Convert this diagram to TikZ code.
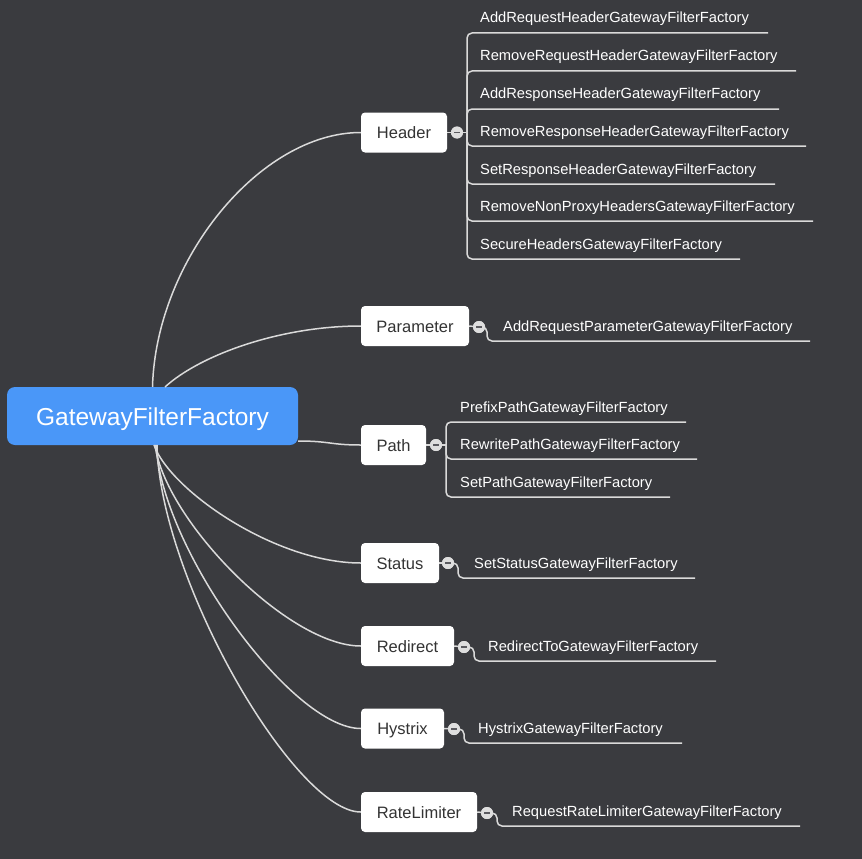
\documentclass[tikz,border=0pt]{standalone}
\usepackage{fontspec}
\setmainfont{Liberation Sans}
\definecolor{bg}{RGB}{58,59,63}
\definecolor{rootblue}{RGB}{74,151,248}
\definecolor{linec}{RGB}{218,218,218}
\definecolor{darktext}{RGB}{51,51,51}
\definecolor{togc}{RGB}{222,222,222}
\definecolor{minusc}{RGB}{90,90,95}
\begin{document}
\begin{tikzpicture}[x=1pt,y=-1pt,
  conn/.style={draw=linec,line width=1.5pt},
  elbow/.style={draw=linec,line width=1.5pt,rounded corners=5pt},
  rootbox/.style={fill=rootblue,rounded corners=8pt,text=white,font=\fontsize{24.5}{28}\selectfont,inner sep=0pt,minimum width=291pt,minimum height=58pt},
  branch/.style={fill=white,rounded corners=4pt,text=darktext,font=\fontsize{16.5}{19}\selectfont,inner sep=0pt,minimum height=40pt,text height=12pt,text depth=0pt},
  leaf/.style={text=white,font=\fontsize{14.7}{17}\selectfont,inner sep=0pt,anchor=base west},
  tog/.style={circle,fill=togc,minimum size=12pt,inner sep=0pt}
]
\useasboundingbox (0,0) rectangle (862,859);
\fill[bg] (0,0) rectangle (862,859);

% root
\node[rootbox,text height=18pt,text depth=0pt] (root) at (152.5,416) {GatewayFilterFactory};

% branch nodes
\node[branch,minimum width=86pt]  (hdr) at (404,132.5) {Header};
\node[branch,minimum width=108pt] (par) at (415,326) {Parameter};
\node[branch,minimum width=65pt]  (pth) at (393.5,445) {Path};
\node[branch,minimum width=78pt]  (sts) at (400,563) {Status};
\node[branch,minimum width=93pt]  (red) at (407.5,646) {Redirect};
\node[branch,minimum width=83pt]  (hys) at (402.5,728.5) {Hystrix};
\node[branch,minimum width=116pt] (rtl) at (419,812) {RateLimiter};

% root connectors
\coordinate (rP) at (165,387);
\coordinate (rPa) at (298,441);
\coordinate (rS) at (154,445);
\coordinate (rR) at (155,445);
\coordinate (rH) at (156,445);
\coordinate (rL) at (157,445);
\draw[conn] (root.north) .. controls (156,260) and (260,132.5) .. (hdr.west);
\draw[conn] (rP) .. controls (200,355) and (280,326) .. (par.west);
\draw[conn] (rPa) .. controls (330,441) and (330,445) .. (pth.west);
\draw[conn] (rS) .. controls (170,490) and (275,563) .. (sts.west);
\draw[conn] (rR) .. controls (165,520) and (288,646) .. (red.west);
\draw[conn] (rH) .. controls (162,550) and (292,728.5) .. (hys.west);
\draw[conn] (rL) .. controls (160,580) and (295,812) .. (rtl.west);

% toggles
\node[tog] (hc)  at (457,132.5) {};
\node[tog] (pc)  at (479,327) {};
\node[tog] (pac) at (436,445) {};
\node[tog] (sc)  at (448,563) {};
\node[tog] (rc)  at (464,647) {};
\node[tog] (hyc) at (454,729) {};
\node[tog] (rlc) at (487,813) {};
\draw[conn] (hdr.east) -- (hc);
\draw[conn] (par.east) -- (pc);
\draw[conn] (pth.east) -- (pac);
\draw[conn] (sts.east) -- (sc);
\draw[conn] (red.east) -- (rc);
\draw[conn] (hys.east) -- (hyc);
\draw[conn] (rtl.east) -- (rlc);

% Header leaves
\coordinate (hj) at (467,132.5);
\draw[conn] (hc) -- (hj);
\foreach \ly/\ex/\nm/\txt in {
  33/768/h1/AddRequestHeaderGatewayFilterFactory,
  71/796/h2/RemoveRequestHeaderGatewayFilterFactory,
  109/779/h3/AddResponseHeaderGatewayFilterFactory,
  146/806/h4/RemoveResponseHeaderGatewayFilterFactory,
  184/775/h5/SetResponseHeaderGatewayFilterFactory,
  221/813/h6/RemoveNonProxyHeadersGatewayFilterFactory,
  259/740/h7/SecureHeadersGatewayFilterFactory}{
  \coordinate (\nm e) at (\ex,\ly);
  \draw[elbow] (hj) |- (\nm e);
  \node[leaf] (\nm) at (480,\ly-10) {\txt};
}

% Parameter leaf
\coordinate (pj) at (487,327);
\coordinate (p1e) at (810,341);
\draw[elbow] (pc) -- (pj) |- (p1e);
\node[leaf] (p1) at (503,331) {AddRequestParameterGatewayFilterFactory};

% Path leaves
\coordinate (paj) at (446,445);
\draw[conn] (pac) -- (paj);
\foreach \ly/\ex/\nm/\txt in {
  422/686/pa1/PrefixPathGatewayFilterFactory,
  459/697/pa2/RewritePathGatewayFilterFactory,
  497/670/pa3/SetPathGatewayFilterFactory}{
  \coordinate (\nm e) at (\ex,\ly);
  \draw[elbow] (paj) |- (\nm e);
  \node[leaf] (\nm) at (460,\ly-10) {\txt};
}

% Status leaf
\coordinate (sj) at (458,563);
\coordinate (s1e) at (695,578);
\draw[elbow] (sc) -- (sj) |- (s1e);
\node[leaf] (s1) at (474,568) {SetStatusGatewayFilterFactory};

% Redirect leaf
\coordinate (rj) at (474,647);
\coordinate (r1e) at (716,661);
\draw[elbow] (rc) -- (rj) |- (r1e);
\node[leaf] (r1) at (488,651) {RedirectToGatewayFilterFactory};

% Hystrix leaf
\coordinate (hyj) at (464,729);
\coordinate (hy1e) at (682,743);
\draw[elbow] (hyc) -- (hyj) |- (hy1e);
\node[leaf] (hy1) at (478,733) {HystrixGatewayFilterFactory};

% RateLimiter leaf
\coordinate (rlj) at (497,813);
\coordinate (rl1e) at (800,826);
\draw[elbow] (rlc) -- (rlj) |- (rl1e);
\node[leaf] (rl1) at (512,816) {RequestRateLimiterGatewayFilterFactory};

% toggle circles on top with minus signs
\foreach \c in {hc,pc,pac,sc,rc,hyc,rlc}{
  \node[tog] at (\c) {};
  \draw[minusc,line width=1.6pt] ([xshift=-3pt]\c.center) -- ([xshift=3pt]\c.center);
}
\end{tikzpicture}
\end{document}
